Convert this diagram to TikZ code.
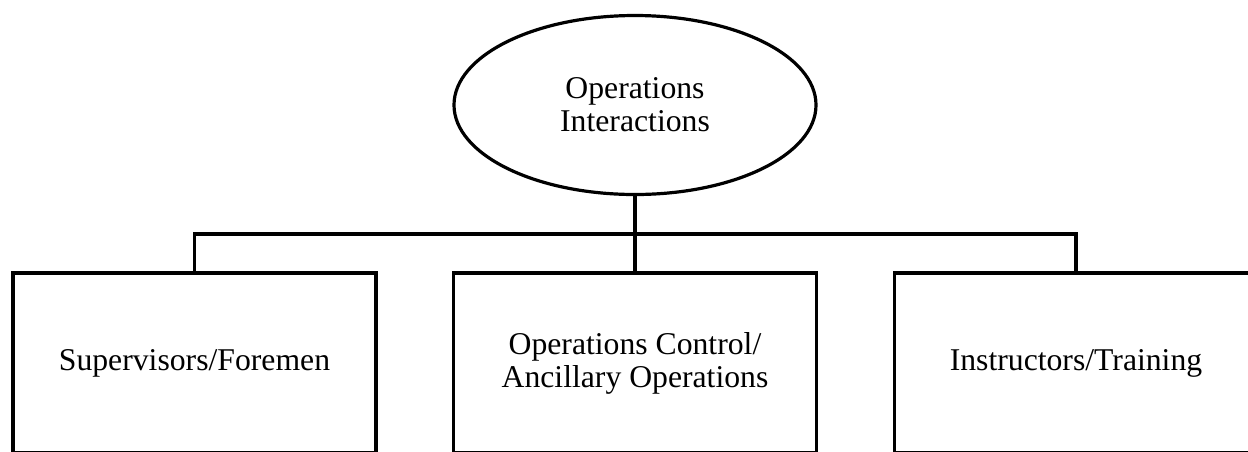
\documentclass[tikz,border=0pt]{standalone}
\usepackage{fontspec}
\setmainfont{Liberation Serif}
\usetikzlibrary{shapes.geometric}
\begin{document}
\begin{tikzpicture}[x=0.5pt,y=-0.5pt,
  line width=1.6pt,
  lbl/.style={font=\fontsize{15.85pt}{16.5pt}\selectfont, align=center, inner sep=0pt, outer sep=0pt},
  topell/.style={lbl, draw, ellipse, minimum width=181pt, minimum height=89.5pt},
  unitbox/.style={lbl, draw, rectangle, minimum width=181.5pt, minimum height=90pt}]
\clip (0,0) rectangle (1248,451);
\fill[white] (0,0) rectangle (1248,451);
\node[topell] (top) at (635,105) {Operations\\Interactions};
\node[unitbox] (left) at (194.5,363) {Supervisors/Foremen};
\node[unitbox] (mid) at (635,363) {Operations Control/\\Ancillary Operations};
\node[unitbox] (right) at (1076,363) {Instructors/Training};
\coordinate (bus) at (635,234);
\draw (top.south) -- (mid.north);
\draw (left.north) |- (bus) -| (right.north);
\end{tikzpicture}
\end{document}
